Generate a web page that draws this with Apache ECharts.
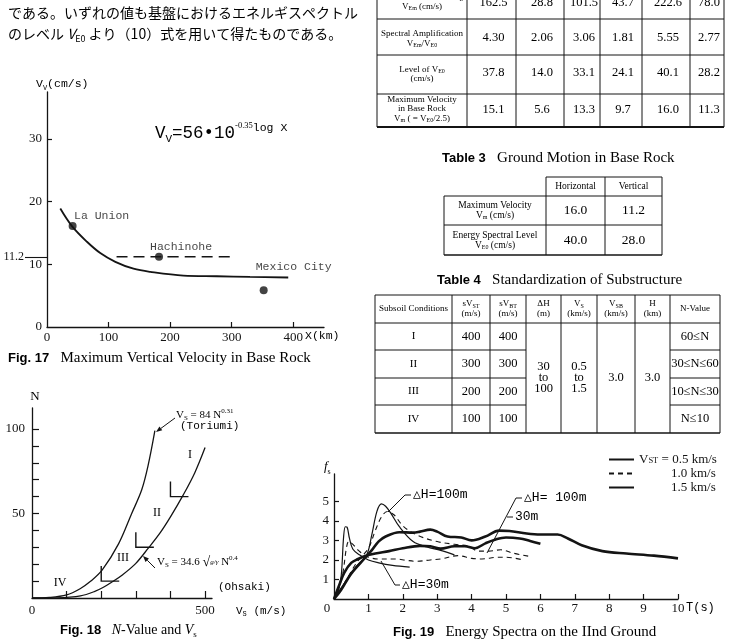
<!DOCTYPE html>
<html>
<head>
<meta charset="utf-8">
<script src="https://cdn.jsdelivr.net/npm/echarts@6/dist/echarts.min.js"></script>
<style>
  html, body { margin: 0; background: #fff; }
  #main { width: 733px; height: 641px; }
</style>
</head>
<body>
<div id="main"></div>
<script>
// ---- Fig.17 : maximum vertical velocity in base rock ----
const vvCurveX = [21.6, 40.5, 64.9, 86.5, 111, 140.5, 167.6, 221.6, 275.7, 329.7, 391.9];
const vvCurveY = [18.9, 16.1, 13.6, 11.8, 10.4, 9.3, 8.8, 8.2, 8.1, 8.0, 7.9];
const siteNames = ['La Union', 'Hachinohe', 'Mexico City'];
const siteX = [41.6, 182, 352];
const siteY = [16.1, 11.2, 5.85];
const hachinoheDashX = [113, 300];
const hachinoheLevel = 11.2;
const fig17XTicks = [100, 200, 300, 400];
const fig17XLabels = [0, 100, 200, 300, 400];
const fig17YTicks = [10, 20, 30];
const fig17YLabels = [0, 10, 20, 30];

// ---- Fig.18 : N-value and Vs ----
const toriumiVs = [0, 50, 100, 139, 170, 203, 250, 288, 317, 335, 355];
const toriumiN = [0, 0.3, 1.8, 5.5, 10, 16.6, 32, 50, 64, 78, 99];
const ohsakiVs = [0, 60, 100, 140, 180, 205, 230, 260, 300, 336, 370, 400, 437, 470, 500];
const ohsakiN = [0, 0.1, 0.4, 1.2, 3.8, 6.2, 9.3, 13.5, 20.5, 29.5, 38.5, 48, 61, 74, 89];
const classVs = [400, 300, 200];
const classN = [60, 30, 10];
const fig18XTicks = [100, 200, 300, 400, 500];
const fig18XLabels = [0, 500];
const fig18YTicks = [10, 20, 30, 40, 50, 60, 70, 80, 90, 100];
const fig18YLabels = [50, 100];

// ---- Fig.19 : energy spectra on the IInd ground ----
const t05a = [0, 0.2, 0.5, 0.9, 1.1, 1.3, 1.5, 1.9, 2.3, 2.5, 2.8, 3.0, 3.3, 3.7, 4.0, 4.4, 4.8, 5.1, 5.6, 6.0, 6.5, 6.8, 7.2, 7.8, 8.5, 9.3, 10];
const f05a = [0, 0.45, 1.3, 2.1, 2.5, 2.95, 3.2, 3.42, 3.4, 3.45, 3.55, 3.45, 3.2, 3.15, 3.0, 3.2, 3.5, 3.48, 3.35, 3.3, 3.3, 3.1, 2.75, 2.45, 2.33, 2.22, 2.08];
const t05b = [0, 0.15, 0.3, 0.5, 0.7, 0.9, 1.2, 1.6, 2.0, 2.5, 2.8, 3.1, 3.5, 3.8, 4.1, 4.4, 4.7, 5.0, 5.4, 5.7, 6.0];
const f05b = [0, 0.7, 1.35, 1.85, 2.05, 2.2, 2.33, 2.45, 2.6, 2.72, 2.7, 2.58, 2.7, 2.7, 2.6, 2.85, 3.05, 3.15, 3.1, 2.97, 2.83];
const t10a = [0, 0.3, 0.65, 1.0, 1.2, 1.38, 1.55, 1.75, 2.0, 2.4, 3.0, 3.5, 3.9, 4.2, 4.5, 4.85, 5.2, 5.7];
const f10a = [0, 0.8, 1.84, 2.6, 3.5, 4.2, 4.48, 4.3, 3.75, 3.28, 2.94, 2.8, 2.72, 2.45, 2.45, 2.52, 2.35, 2.18];
const t10b = [0, 0.15, 0.26, 0.36, 0.43, 0.55, 0.7, 0.95, 1.3, 1.8, 2.1, 2.4, 2.8, 3.1, 3.6, 4.0, 4.3, 4.7, 5.0, 5.5];
const f10b = [0, 0.6, 1.35, 2.6, 2.95, 2.8, 2.5, 2.18, 2.05, 2.05, 1.98, 1.93, 2.0, 2.05, 2.22, 2.08, 2.05, 2.13, 2.14, 2.0];
const t15a = [0, 0.3, 0.65, 0.95, 1.1, 1.25, 1.38, 1.5, 1.65, 1.9, 2.3, 2.7, 3.1, 3.5];
const f15a = [0, 0.8, 1.67, 2.26, 3.3, 4.5, 4.87, 4.75, 4.4, 3.7, 2.94, 2.66, 2.49, 2.26];
const t15b = [0, 0.12, 0.21, 0.28, 0.33, 0.38, 0.45, 0.55, 0.75, 1.0, 1.3, 1.7, 2.2];
const f15b = [0, 0.4, 1.2, 3.2, 3.7, 3.68, 3.1, 2.55, 2.25, 2.0, 1.85, 1.72, 1.63];
const fig19XTicks = [1, 2, 3, 4, 5, 6, 7, 8, 9, 10];
const fig19XLabels = [0, 1, 2, 3, 4, 5, 6, 7, 8, 9, 10];
const fig19YTicks = [1, 2, 3, 4, 5];
const fig19YLabels = [1, 2, 3, 4, 5];

// ---- tables ----
const t2RowLabels = ['Maximum Value of V_{E}\nV_{Em} (cm/s)', 'Spectral Amplification\nV_{Em}/V_{E0}', 'Level of V_{E0}\n(cm/s)', 'Maximum Velocity\nin Base Rock\nV_{m} ( = V_{E0}/2.5)'];
const t2Values = [
  ['162.5', '28.8', '101.5', '43.7', '222.6', '78.0'],
  ['4.30', '2.06', '3.06', '1.81', '5.55', '2.77'],
  ['37.8', '14.0', '33.1', '24.1', '40.1', '28.2'],
  ['15.1', '5.6', '13.3', '9.7', '16.0', '11.3'],
];
const t3ColHeads = ['Horizontal', 'Vertical'];
const t3RowLabels = ['Maximum Velocity\nV_{m} (cm/s)', 'Energy Spectral Level\nV_{E0} (cm/s)'];
const t3Values = [['16.0', '11.2'], ['40.0', '28.0']];
const t4Heads = ['Subsoil Conditions', 'sV_{ST}\n(m/s)', 'sV_{BT}\n(m/s)', 'ΔH\n(m)', 'V_{S}\n(km/s)', 'V_{SB}\n(km/s)', 'H\n(km)', 'N-Value'];
const t4Classes = ['I', 'II', 'III', 'IV'];
const t4VST = ['400', '300', '200', '100'];
const t4VBT = ['400', '300', '200', '100'];
const t4DeltaH = '30\nto\n100';
const t4Vs = '0.5\nto\n1.5';
const t4Vsb = '3.0';
const t4H = '3.0';
const t4NValue = ['60≤N', '30≤N≤60', '10≤N≤30', 'N≤10'];

// ------------------------------------------------------------------
const INK = '#141414';
const SERIF = '"Liberation Serif", "DejaVu Serif", serif';
const MONO = '"Liberation Mono", "DejaVu Sans Mono", monospace';
const SANS = '"Liberation Sans", Arial, sans-serif';
const JP = '"Noto Sans CJK JP", sans-serif';

// 'V_{E0}' -> rich tokens, '^{..}' superscript, '*..*' italic
function rt(str) {
  return str.split(/(_\{[^}]*\}|\^\{[^}]*\}|\*[^*]*\*)/).filter(Boolean).map(p => {
    if (p.startsWith('_{')) return '{s|' + p.slice(2, -1) + '}';
    if (p.startsWith('^{')) return '{u|' + p.slice(2, -1) + '}';
    if (p.startsWith('*')) return '{i|' + p.slice(1, -1) + '}';
    return '{n|' + p + '}';
  }).join('');
}

function richStyle(size, family, o) {
  const lh = o.lh || Math.round(size * 1.3);
  const small = Math.max(6, Math.round(size * 0.64));
  const base = { fontFamily: family, color: INK, fontWeight: o.weight || 'normal' };
  return Object.assign({
    n: Object.assign({ fontSize: size, lineHeight: lh }, base),
    i: Object.assign({ fontSize: size, lineHeight: lh, fontStyle: 'italic' }, base),
    s: Object.assign({ fontSize: small, lineHeight: small + 1, verticalAlign: 'bottom' }, base),
    u: Object.assign({ fontSize: small, lineHeight: small + 1, verticalAlign: 'top' }, base),
  }, o.rich || {});
}

function txt(x, y, str, size, family, o) {
  o = o || {};
  return {
    type: 'text', silent: true, x, y,
    style: {
      text: o.raw ? str : rt(str),
      rich: richStyle(size, family, o),
      align: o.align || 'center',
      verticalAlign: o.va || 'middle',
    },
  };
}

function seg(x1, y1, x2, y2, w) {
  return { type: 'line', silent: true, shape: { x1, y1, x2, y2 }, style: { stroke: INK, lineWidth: w || 1 } };
}

function poly(points, w) {
  return { type: 'polyline', silent: true, shape: { points }, style: { stroke: INK, fill: null, lineWidth: w || 1 } };
}

function arrow(x1, y1, x2, y2) {
  const a = Math.atan2(y2 - y1, x2 - x1), L = 6, W = 2.4;
  const bx = x2 - L * Math.cos(a), by = y2 - L * Math.sin(a);
  return [
    seg(x1, y1, bx, by, 1),
    { type: 'polygon', silent: true, shape: { points: [[x2, y2], [bx + W * Math.sin(a), by - W * Math.cos(a)], [bx - W * Math.sin(a), by + W * Math.cos(a)]] }, style: { fill: INK } },
  ];
}

function valAxis(gridIndex, min, max, tickVals, labelVals, margin, tickLen, extra) {
  return Object.assign({
    type: 'value', gridIndex, min, max,
    splitLine: { show: false },
    axisLine: { show: true, onZero: false, lineStyle: { color: INK, width: 1.3 } },
    axisTick: { show: true, inside: true, length: tickLen, customValues: tickVals, lineStyle: { color: INK, width: 1.2 } },
    axisLabel: { customValues: labelVals, margin, color: INK, fontFamily: SERIF, fontSize: 13 },
  }, extra || {});
}

const zip = (a, b) => a.map((v, i) => [v, b[i]]);

const lineS = (name, xi, yi, xs, ys, width, type) => ({
  name, type: 'line', xAxisIndex: xi, yAxisIndex: yi, data: zip(xs, ys),
  smooth: 0.35, symbol: 'none', silent: true,
  lineStyle: { color: INK, width, type: type || 'solid' },
  itemStyle: { color: INK },
});

const siteLabelOffset = [[29, 5], [22, 5], [30, -8]];

const option = {
  backgroundColor: '#fff',
  animation: false,
  grid: [
    { left: 47, top: 92, width: 277, height: 235, containLabel: false, outerBoundsMode: 'none' },
    { left: 32, top: 408, width: 180, height: 190, containLabel: false, outerBoundsMode: 'none' },
    { left: 334, top: 474, width: 344, height: 125, containLabel: false, outerBoundsMode: 'none' },
  ],
  xAxis: [
    valAxis(0, 0, 450, fig17XTicks, fig17XLabels, 4, 5),
    valAxis(1, 0, 520, fig18XTicks, fig18XLabels, 6, 7),
    valAxis(2, 0, 10, fig19XTicks, fig19XLabels, 3, 5, {
      axisLabel: {
        customValues: fig19XLabels, margin: 3, color: INK, fontFamily: SERIF, fontSize: 13,
        formatter: v => (v === 0 ? '{z|0}' : String(v)),
        rich: { z: { fontSize: 13, fontFamily: SERIF, color: INK, padding: [0, 14, 0, 0] } },
      },
    }),
  ],
  yAxis: [
    valAxis(0, 0, 37.5, fig17YTicks, fig17YLabels, 5, 5),
    {
      type: 'value', gridIndex: 0, min: 0, max: 37.5, position: 'left', offset: 0,
      splitLine: { show: false }, axisLine: { show: false },
      axisTick: { show: true, inside: false, length: 22, customValues: [hachinoheLevel], lineStyle: { color: INK, width: 1.1 } },
      axisLabel: { customValues: [hachinoheLevel], margin: 23, color: INK, fontFamily: SERIF, fontSize: 12, formatter: v => v.toFixed(1) },
    },
    valAxis(1, 0, 112.4, fig18YTicks, fig18YLabels, 7, 7),
    valAxis(2, 0, 6.4, fig19YTicks, fig19YLabels, 5, 5),
  ],
  legend: {
    left: 608, top: 453, padding: 0, orient: 'vertical', itemWidth: 25, itemHeight: 10, itemGap: 1,
    selectedMode: false,
    data: ['0.5', '1.0', '1.5'],
    itemStyle: { color: 'rgba(0,0,0,0)', borderColor: 'rgba(0,0,0,0)', borderWidth: 0 },
    formatter: name => (name === '0.5' ? '{n|V}{s|ST}{n| = 0.5 km/s}' : '{p|' + name + ' km/s}'),
    textStyle: {
      rich: {
        n: { fontSize: 13, fontFamily: SERIF, color: INK, lineHeight: 12 },
        s: { fontSize: 8.5, fontFamily: SERIF, color: INK, lineHeight: 9, verticalAlign: 'bottom' },
        p: { fontSize: 13, fontFamily: SERIF, color: INK, lineHeight: 12, padding: [0, 0, 0, 32] },
      },
    },
  },
  series: [
    // Fig.17
    lineS('Vv', 0, 0, vvCurveX, vvCurveY, 1.8),
    lineS('Hachinohe level', 0, 0, hachinoheDashX, hachinoheDashX.map(() => hachinoheLevel), 1.5, [11, 6]),
    {
      type: 'scatter', xAxisIndex: 0, yAxisIndex: 0, symbolSize: 8, silent: true,
      itemStyle: { color: INK },
      data: siteNames.map((n, i) => ({
        name: n, value: [siteX[i], siteY[i]],
        label: { show: true, position: 'top', offset: siteLabelOffset[i], formatter: '{b}', fontFamily: MONO, fontSize: 11.5, color: INK },
      })),
    },
    // Fig.18
    lineS('Toriumi', 1, 2, toriumiVs, toriumiN, 1.3),
    lineS('Ohsaki', 1, 2, ohsakiVs, ohsakiN, 1.3),
    {
      type: 'custom', xAxisIndex: 1, yAxisIndex: 2, silent: true,
      data: zip(classVs, classN),
      renderItem: (params, api) => {
        const p = api.coord([api.value(0), api.value(1)]);
        return {
          type: 'polyline',
          shape: { points: [[p[0], p[1] - 15], [p[0], p[1]], [p[0] + 18, p[1]]] },
          style: { stroke: INK, fill: null, lineWidth: 1.4 },
        };
      },
    },
    // Fig.19
    lineS('0.5', 2, 3, t05a, f05a, 2.6),
    lineS('0.5', 2, 3, t05b, f05b, 2.6),
    lineS('1.0', 2, 3, t10a, f10a, 1.1, [5, 4]),
    lineS('1.0', 2, 3, t10b, f10b, 1.1, [5, 4]),
    lineS('1.5', 2, 3, t15a, f15a, 1.2),
    lineS('1.5', 2, 3, t15b, f15b, 1.2),
  ],
};

// ---------------- text, annotations and tables ----------------
const g = [];

// running Japanese text
g.push(txt(8, 13, 'である。いずれの値も基盤におけるエネルギスペクトル', 14, JP, { align: 'left' }));
g.push(txt(8, 34, 'のレベル *V*_{E0} より（10）式を用いて得たものである。', 14, JP, { align: 'left' }));

// Fig.17 texts
g.push(txt(36, 84, 'V_{V}(cm/s)', 11.5, MONO, { align: 'left' }));
g.push(txt(305, 336, 'X(km)', 11.5, MONO, { align: 'left' }));
g.push(txt(155, 133, '{n|V}{s|V}{n|=56•10}{u|-0.35}{w|log X}', 17.5, MONO, {
  align: 'left', raw: true,
  rich: {
    s: { fontSize: 11, fontFamily: MONO, color: INK, lineHeight: 11, verticalAlign: 'bottom' },
    u: { fontSize: 8.5, fontFamily: SERIF, color: INK, lineHeight: 9, verticalAlign: 'top' },
    w: { fontSize: 11.5, fontFamily: MONO, color: INK, lineHeight: 12, verticalAlign: 'top' },
  },
}));
g.push(txt(8, 358, '{b|Fig. 17}{n|   Maximum Vertical Velocity in Base Rock}', 15, SERIF, {
  align: 'left', raw: true, rich: { b: { fontSize: 13, fontFamily: SANS, fontWeight: 'bold', color: INK } },
}));

// Fig.18 texts
g.push(txt(35, 397, 'N', 13, SERIF));
g.push(txt(236, 611, 'V_{S} (m/s)', 11, MONO, { align: 'left' }));
g.push(txt(176, 415, 'V_{S} = 84 N^{0.31}', 11, SERIF, { align: 'left' }));
g.push(txt(180, 426, '(Toriumi)', 11, MONO, { align: 'left' }));
g.push(...arrow(175, 418, 156, 432));
g.push(txt(157, 562, '{n|V}{s|S}{n| = 34.6 }{r|√}{f|g/γ}{n| N}{u|0.4}', 11, SERIF, {
  align: 'left', raw: true,
  rich: {
    r: { fontSize: 14, fontFamily: SERIF, color: INK },
    f: { fontSize: 7, fontFamily: SERIF, fontStyle: 'italic', color: INK },
  },
}));
g.push(txt(218, 587, '(Ohsaki)', 11, MONO, { align: 'left' }));
g.push(...arrow(155, 568, 143, 556));
g.push(txt(190, 455, 'I', 12, SERIF));
g.push(txt(157, 513, 'II', 12, SERIF));
g.push(txt(123, 558, 'III', 12, SERIF));
g.push(txt(60, 583, 'IV', 12, SERIF));
g.push(txt(60, 630, '{b|Fig. 18}{n|   }{i|N}{n|-Value and }{i|V}{s|s}', 14, SERIF, {
  align: 'left', raw: true, rich: { b: { fontSize: 13, fontFamily: SANS, fontWeight: 'bold', color: INK } },
}));

// Fig.19 texts
g.push(txt(324, 467, '*f*_{s}', 13, SERIF, { align: 'left' }));
g.push(txt(686, 608, 'T(s)', 12, MONO, { align: 'left' }));
g.push(txt(413, 495, '△H=100m', 13, MONO, { align: 'left' }));
g.push(poly([[411, 495], [405, 495], [388, 512]]));
g.push(txt(524, 498, '△H= 100m', 13, MONO, { align: 'left' }));
g.push(poly([[522, 498], [516, 498], [487, 553]]));
g.push(txt(515, 517, '30m', 13, MONO, { align: 'left' }));
g.push(seg(507, 517, 513, 517));
g.push(txt(402, 585, '△H=30m', 13, MONO, { align: 'left' }));
g.push(poly([[400, 585], [395, 585], [381, 561]]));
g.push(txt(393, 632, '{b|Fig. 19}{n|   Energy Spectra on the IInd Ground}', 15, SERIF, {
  align: 'left', raw: true, rich: { b: { fontSize: 13, fontFamily: SANS, fontWeight: 'bold', color: INK } },
}));

// Table 2 (upper part cut by page)
const t2Cols = [377, 467, 516, 564, 600, 642, 690, 724];
const t2Rows = [-12, 19, 55, 94, 127];
const t2LabelY = [2, 38.5, 74, 109];
const t2ValY = [3, 38, 73, 110];
t2Rows.forEach((y, i) => g.push(seg(t2Cols[0], y, t2Cols[7], y, i === 4 ? 1.8 : 1)));
t2Cols.forEach(x => g.push(seg(x, t2Rows[0], x, t2Rows[4], 1)));
t2RowLabels.forEach((lab, r) => g.push(txt(422, t2LabelY[r], lab, 9, SERIF, { lh: 9.5 })));
t2Values.forEach((row, r) => row.forEach((v, c) => g.push(txt((t2Cols[c + 1] + t2Cols[c + 2]) / 2 + 2, t2ValY[r], v, 12.5, SERIF))));

// Table 3
g.push(txt(442, 158, '{b|Table 3}{n|   Ground Motion in Base Rock}', 15, SERIF, {
  align: 'left', raw: true, rich: { b: { fontSize: 13, fontFamily: SANS, fontWeight: 'bold', color: INK } },
}));
const t3Cols = [444, 546, 605, 662];
const t3Rows = [177, 196, 225, 255];
g.push(seg(546, 177, 662, 177));
[196, 225, 255].forEach(y => g.push(seg(444, y, 662, y, y === 255 ? 1.5 : 1)));
g.push(seg(444, 196, 444, 255));
[546, 605, 662].forEach(x => g.push(seg(x, 177, x, 255)));
t3ColHeads.forEach((h, c) => g.push(txt((t3Cols[c + 1] + t3Cols[c + 2]) / 2, 186.5, h, 9.5, SERIF)));
t3RowLabels.forEach((lab, r) => g.push(txt(495, (t3Rows[r + 1] + t3Rows[r + 2]) / 2, lab, 9.5, SERIF, { lh: 10 })));
t3Values.forEach((row, r) => row.forEach((v, c) => g.push(txt((t3Cols[c + 1] + t3Cols[c + 2]) / 2, (t3Rows[r + 1] + t3Rows[r + 2]) / 2, v, 13.5, SERIF))));

// Table 4
g.push(txt(437, 280, '{b|Table 4}{n|   Standardization of Substructure}', 15, SERIF, {
  align: 'left', raw: true, rich: { b: { fontSize: 13, fontFamily: SANS, fontWeight: 'bold', color: INK } },
}));
const t4Cols = [375, 452, 490, 526, 561, 597, 635, 670, 720];
const t4Rows = [295, 323, 350, 378, 405, 433];
g.push(seg(375, 295, 720, 295));
g.push(seg(375, 323, 720, 323));
g.push(seg(375, 433, 720, 433, 1.6));
[350, 378, 405].forEach(y => { g.push(seg(375, y, 526, y)); g.push(seg(670, y, 720, y)); });
t4Cols.forEach(x => g.push(seg(x, 295, x, 433)));
t4Heads.forEach((h, c) => g.push(txt((t4Cols[c] + t4Cols[c + 1]) / 2, 309, h, 9, SERIF, { lh: 10 })));
const t4Mid = (c) => (t4Cols[c] + t4Cols[c + 1]) / 2;
const t4RowMid = (r) => (t4Rows[r + 1] + t4Rows[r + 2]) / 2;
t4Classes.forEach((v, r) => {
  g.push(txt(t4Mid(0), t4RowMid(r), v, 11, SERIF));
  g.push(txt(t4Mid(1), t4RowMid(r), t4VST[r], 12.5, SERIF));
  g.push(txt(t4Mid(2), t4RowMid(r), t4VBT[r], 12.5, SERIF));
  g.push(txt(t4Mid(7), t4RowMid(r), t4NValue[r], 12.5, SERIF));
});
g.push(txt(t4Mid(3), 378, t4DeltaH, 12.5, SERIF, { lh: 11 }));
g.push(txt(t4Mid(4), 378, t4Vs, 12.5, SERIF, { lh: 11 }));
g.push(txt(t4Mid(5), 378, t4Vsb, 12.5, SERIF));
g.push(txt(t4Mid(6), 378, t4H, 12.5, SERIF));

option.graphic = { elements: g };

const chart = echarts.init(document.getElementById('main'), null, { renderer: 'canvas' });
chart.setOption(option);
</script>
</body>
</html>
